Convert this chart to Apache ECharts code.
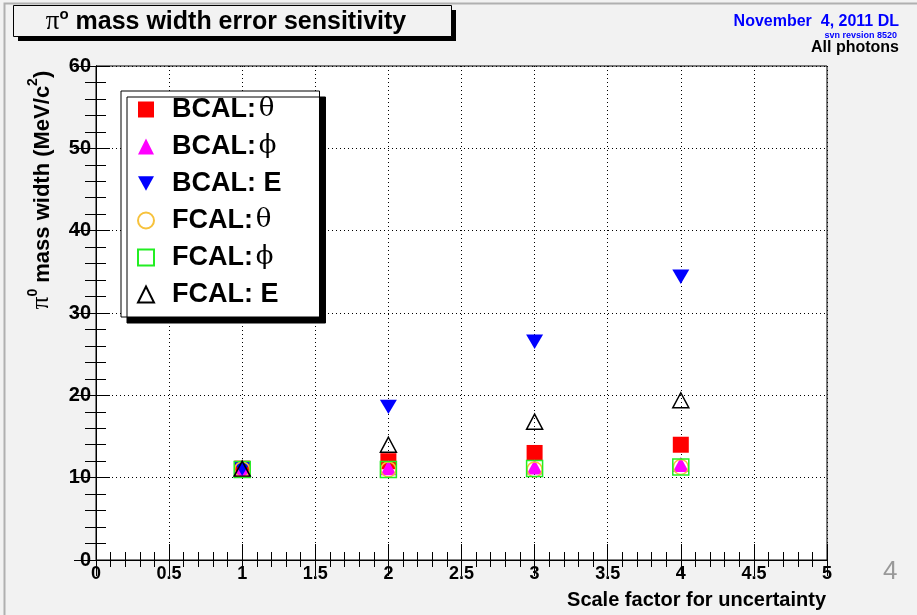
<!DOCTYPE html>
<html>
<head>
<meta charset="utf-8">
<script src="https://cdn.jsdelivr.net/npm/echarts@6/dist/echarts.min.js"></script>
<style>
  html, body { margin: 0; padding: 0; background: #f2f2f2; }
  #chart { width: 917px; height: 615px; }
</style>
</head>
<body>
<div id="chart"></div>
<script>
// scale factor on the x axis
const scaleFactors = [1, 2, 3, 4];
// pi0 mass width (MeV/c^2) for each smeared quantity
const bcalTheta = [11.1, 12.0, 13.0, 14.0];
const bcalPhi = [11.1, 11.2, 11.3, 11.6];
const bcalE = [11.1, 18.6, 26.5, 34.4];
const fcalTheta = [11.0, 11.0, 11.0, 11.3];
const fcalPhi = [11.0, 11.0, 11.1, 11.3];
const fcalE = [11.1, 14.0, 16.8, 19.4];

const xTicks = [0, 0.5, 1, 1.5, 2, 2.5, 3, 3.5, 4, 4.5, 5];
const yTicks = [0, 10, 20, 30, 40, 50, 60];

const FONT = '"Liberation Sans", Arial, Helvetica, sans-serif';
const SERIF = '"Liberation Serif", "Times New Roman", serif';
const GREEK = '"DejaVu Serif", "Liberation Serif", serif';

function pts(vals) {
    return scaleFactors.map((x, i) => [x, vals[i]]);
}

const chart = echarts.init(document.getElementById('chart'));

const downTri = 'path://M0,0L20,0L10,18Z';

const seriesDefs = [
    { name: 'BCAL: θ', data: bcalTheta, symbol: 'rect', size: 16, fill: '#ff0000', stroke: '#ff0000' },
    { name: 'BCAL: ϕ', data: bcalPhi, symbol: 'triangle', size: [16, 15], fill: '#ff00ff', stroke: '#ff00ff' },
    { name: 'BCAL: E', data: bcalE, symbol: downTri, size: [17, 16], fill: '#0000ff', stroke: '#0000ff' },
    { name: 'FCAL: θ', data: fcalTheta, symbol: 'circle', size: 15, fill: 'transparent', stroke: '#f7c23c' },
    { name: 'FCAL: ϕ', data: fcalPhi, symbol: 'rect', size: 16, fill: 'transparent', stroke: '#22ee22' },
    { name: 'FCAL: E', data: fcalE, symbol: 'triangle', size: [16, 15], fill: 'transparent', stroke: '#000000' },
];

const option = {
    backgroundColor: '#f2f2f2',
    animation: false,
    grid: {
        left: 96, right: 90, top: 66, bottom: 55,
        show: true, backgroundColor: '#ffffff', borderColor: '#000', borderWidth: 1
    },
    title: [
        {
            text: 'November  4, 2011 DL', right: 13, top: 9,
            textStyle: { color: '#0000ff', fontFamily: FONT, fontWeight: 'bold', fontSize: 16 }
        },
        {
            text: 'svn revsion 8520', right: 15, top: 26,
            textStyle: { color: '#0000ff', fontFamily: FONT, fontWeight: 'bold', fontSize: 9 }
        },
        {
            text: 'All photons', right: 13, top: 35,
            textStyle: { color: '#000', fontFamily: FONT, fontWeight: 'bold', fontSize: 16 }
        },
        {
            text: '4', left: 878, top: 554,
            textStyle: { color: '#999', fontFamily: FONT, fontWeight: 'normal', fontSize: 26 }
        }
    ],
    legend: {
        orient: 'vertical',
        left: 121, top: 91,
        padding: [5, 38, 9, 16],
        itemWidth: 16, itemHeight: 16,
        itemGap: 10,
        symbolKeepAspect: true,
        backgroundColor: '#ffffff',
        borderColor: '#000', borderWidth: 1,
        shadowColor: '#000', shadowBlur: 0, shadowOffsetX: 6, shadowOffsetY: 6,
        data: seriesDefs.map(s => s.name),
        formatter: function (name) {
            const parts = name.split(': ');
            const tail = parts[1] === 'E' ? '{a| E}' : '{s| }{g|' + parts[1] + '}';
            return '{h|}{a|' + parts[0] + ':}' + tail;
        },
        textStyle: {
            rich: {
                h: { width: 13, lineHeight: 30 },
                a: { fontFamily: FONT, fontWeight: 'bold', fontSize: 27, color: '#000', lineHeight: 30 },
                s: { fontFamily: FONT, fontSize: 10, lineHeight: 30 },
                g: { fontFamily: GREEK, fontWeight: 'normal', fontSize: 26, color: '#000', lineHeight: 30 }
            }
        }
    },
    xAxis: [
        {
            type: 'value', min: 0, max: 5, interval: 0.5,
            axisLine: { show: true, lineStyle: { color: '#000', width: 1 } },
            axisTick: { show: true, inside: true, length: 16, lineStyle: { color: '#000' } },
            minorTick: { show: true, splitNumber: 5, length: 8, lineStyle: { color: '#000' } },
            splitLine: { show: true, lineStyle: { color: '#000', type: [1, 3], width: 1 } },
            axisLabel: {
                margin: 5, color: '#000', fontFamily: FONT, fontWeight: 'bold', fontSize: 18,
                formatter: v => xTicks.indexOf(v) >= 0 ? String(v) : ''
            }
        },
        {
            type: 'value', position: 'top', min: 0, max: 5, interval: 0.5,
            axisLine: { show: true, lineStyle: { color: '#000', width: 1 } },
            axisTick: { show: true, inside: true, length: 16, lineStyle: { color: '#000' } },
            minorTick: { show: true, splitNumber: 5, length: 7, lineStyle: { color: '#000' } },
            splitLine: { show: false },
            axisLabel: { show: false }
        }
    ],
    yAxis: [
        {
            type: 'value', min: 0, max: 60, interval: 10,
            axisLine: { show: true, lineStyle: { color: '#000', width: 1 } },
            axisTick: { show: true, inside: true, length: 14, lineStyle: { color: '#000' } },
            minorTick: { show: true, splitNumber: 5, length: 10, lineStyle: { color: '#000' } },
            splitLine: { show: true, lineStyle: { color: '#000', type: [1, 3], width: 1 } },
            axisLabel: {
                margin: 5, color: '#000', fontFamily: FONT, fontWeight: 'bold', fontSize: 20,
                formatter: v => yTicks.indexOf(v) >= 0 ? String(v) : ''
            }
        },
        {
            type: 'value', position: 'right', min: 0, max: 60, interval: 10,
            axisLine: { show: true, lineStyle: { color: '#000', width: 1 } },
            axisTick: { show: true, inside: true, length: 22, lineStyle: { color: '#000' } },
            minorTick: { show: true, splitNumber: 5, length: 11, lineStyle: { color: '#000' } },
            splitLine: { show: false },
            axisLabel: { show: false }
        }
    ],
    graphic: [
        // page border
        { type: 'rect', shape: { x: 4.5, y: 3.5, width: 1000, height: 1000 },
          style: { fill: 'none', stroke: '#b0b0b0', lineWidth: 2 }, z: 0 },
        // title box with shadow
        { type: 'rect', shape: { x: 18, y: 10, width: 438, height: 31 },
          style: { fill: '#000' }, z: 10 },
        { type: 'rect', shape: { x: 13.5, y: 5.5, width: 438, height: 31 },
          style: { fill: '#f2f2f2', stroke: '#000', lineWidth: 1 }, z: 11 },
        { type: 'text', x: 226, y: 21, z: 12,
          style: {
              text: '{p|π}{sup|o}{t| mass width error sensitivity}',
              align: 'center', verticalAlign: 'middle',
              rich: {
                  p: { fontFamily: SERIF, fontSize: 27, color: '#000', lineHeight: 28, verticalAlign: 'bottom' },
                  sup: { fontFamily: FONT, fontWeight: 'bold', fontSize: 15, color: '#000', lineHeight: 28, verticalAlign: 'top' },
                  t: { fontFamily: FONT, fontWeight: 'bold', fontSize: 25, color: '#000', lineHeight: 28, verticalAlign: 'bottom' }
              }
          } },
        // y axis title
        { type: 'text', x: 40, y: 190, rotation: Math.PI / 2, z: 12,
          style: {
              text: '{p|π}{sup|0}{t| mass width (MeV/c}{sup|2}{t|)}',
              align: 'center', verticalAlign: 'middle',
              rich: {
                  p: { fontFamily: SERIF, fontSize: 25, color: '#000', lineHeight: 28, verticalAlign: 'bottom' },
                  sup: { fontFamily: FONT, fontWeight: 'bold', fontSize: 14, color: '#000', lineHeight: 28, verticalAlign: 'top' },
                  t: { fontFamily: FONT, fontWeight: 'bold', fontSize: 22, color: '#000', lineHeight: 28, verticalAlign: 'bottom' }
              }
          } },
        // x axis title
        { type: 'text', x: 826, y: 600, z: 12,
          style: {
              text: 'Scale factor for uncertainty',
              align: 'right', verticalAlign: 'middle',
              fontFamily: FONT, fontWeight: 'bold', fontSize: 20, fill: '#000'
          } }
    ],
    series: seriesDefs.map(s => ({
        name: s.name,
        type: 'scatter',
        xAxisIndex: 0, yAxisIndex: 0,
        symbol: s.symbol,
        symbolSize: s.size,
        symbolKeepAspect: true,
        data: pts(s.data),
        itemStyle: { color: s.fill, borderColor: s.stroke, borderWidth: s.fill === 'transparent' ? 1.5 : 0, opacity: 1 },
        emphasis: { disabled: true }
    }))
};

chart.setOption(option);
</script>
</body>
</html>
